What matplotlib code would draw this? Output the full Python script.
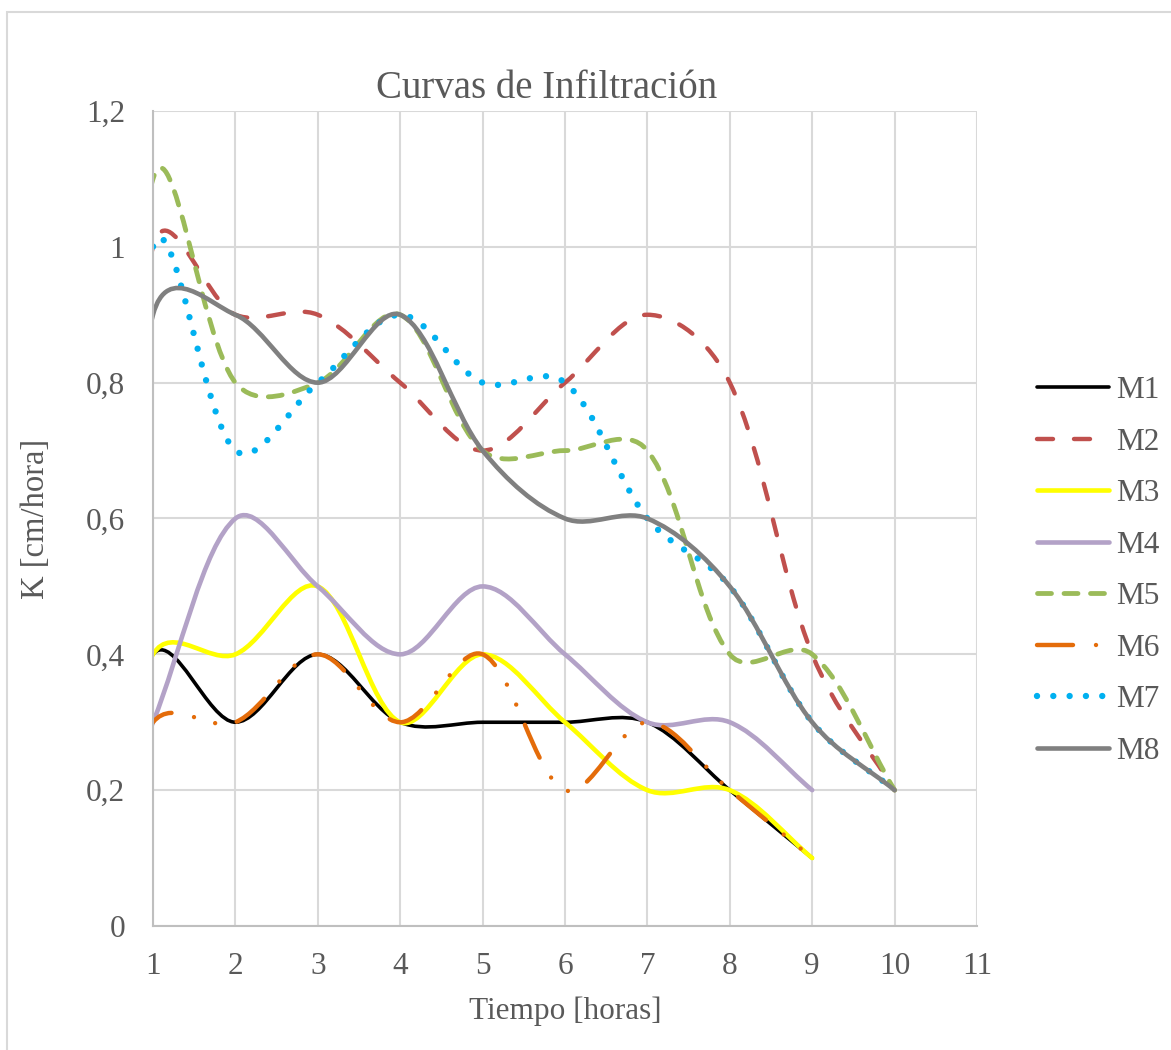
import numpy as np
import matplotlib
matplotlib.use("Agg")
import matplotlib.pyplot as plt
from matplotlib.path import Path
from matplotlib.patches import PathPatch, Rectangle
from matplotlib.lines import Line2D
from matplotlib.ticker import FuncFormatter

plt.rcParams['font.family'] = ['Liberation Serif', 'DejaVu Serif']

# --- datos (tiempo 0 con K = 0, fuera del rango visible del eje) ---
tiempo = [0, 1, 2, 3, 4, 5, 6, 7, 8, 9, 10]
m1 = [0, 0.4, 0.3, 0.4, 0.3, 0.3, 0.3, 0.3, 0.2, 0.1]
m2 = [0, 1.0, 0.9, 0.9, 0.8, 0.7, 0.8, 0.9, 0.8, 0.4, 0.2]
m3 = [0, 0.4, 0.4, 0.5, 0.3, 0.4, 0.3, 0.2, 0.2, 0.1]
m4 = [0, 0.3, 0.6, 0.5, 0.4, 0.5, 0.4, 0.3, 0.3, 0.2]
m5 = [0, 1.1, 0.8, 0.8, 0.9, 0.7, 0.7, 0.7, 0.4, 0.4, 0.2]
m6 = [0, 0.3, 0.3, 0.4, 0.3, 0.4, 0.2, 0.3, 0.2, 0.1]
m7 = [0, 1.0, 0.7, 0.8, 0.9, 0.8, 0.8, 0.6, 0.5, 0.3, 0.2]
m8 = [0, 0.9, 0.9, 0.8, 0.9, 0.7, 0.6, 0.6, 0.5, 0.3, 0.2]

nombres = ["M1", "M2", "M3", "M4", "M5", "M6", "M7", "M8"]
series = [m1, m2, m3, m4, m5, m6, m7, m8]

DPI = 100
txt = "#595959"
grid_c = "#D9D9D9"


def px_pattern(lw_px, *segs):
    # patron de guiones en pixeles -> unidades de ancho de linea
    return (0, tuple(s / lw_px for s in segs))


# estilos: color, ancho (px), patron de guiones
estilos = {
    "M1": ("#000000", 3.6, None),
    "M2": ("#C0504D", 4.4, px_pattern(4.4, 16, 21)),
    "M3": ("#FFFF00", 4.6, None),
    "M4": ("#B3A2C7", 4.6, None),
    "M5": ("#9BBB59", 4.8, px_pattern(4.8, 14, 12.5)),
    "M6": ("#E46C0A", 4.4, px_pattern(4.4, 36, 23, 0.01, 22, 0.01, 22)),
    "M7": ("#00B0F0", 6.4, px_pattern(6.4, 0.01, 16.3)),
    "M8": ("#808080", 4.6, None),
}


def suavizar(ax, xs, ys):
    # curva suavizada tipo Excel (Bezier centripeta en coordenadas de pantalla)
    pts = ax.transData.transform(np.column_stack([xs, ys]))
    n = len(pts)
    verts = [pts[0]]
    codes = [Path.MOVETO]
    for i in range(n - 1):
        p0 = pts[i - 1] if i > 0 else pts[i]
        p1 = pts[i]
        p2 = pts[i + 1]
        p3 = pts[i + 2] if i + 2 < n else pts[i + 1]
        d01 = np.sqrt(np.hypot(*(p1 - p0)))
        d12 = np.sqrt(np.hypot(*(p2 - p1)))
        d23 = np.sqrt(np.hypot(*(p3 - p2)))
        c1 = p1 + (p2 - p0) * d12 / (d01 + d12) / 3
        c2 = p2 - (p3 - p1) * d12 / (d12 + d23) / 3
        verts += [c1, c2, p2]
        codes += [Path.CURVE4] * 3
    verts = ax.transData.inverted().transform(np.array(verts))
    return Path(verts, codes)


fig = plt.figure(figsize=(1171 / DPI, 1050 / DPI), dpi=DPI)
ax = fig.add_axes([153 / 1171, 1 - 926 / 1050, (977 - 153) / 1171, (926 - 111) / 1050])
ax.set_xlim(1, 11)
ax.set_ylim(0, 1.2)
ax.set_xticks(range(1, 12))
ax.set_yticks(np.arange(0, 1.21, 0.2))
ax.yaxis.set_major_formatter(FuncFormatter(lambda v, p: ("%g" % round(v, 1)).replace(".", ",")))
ax.grid(True, color=grid_c, linewidth=1.5)
ax.set_axisbelow(True)
for s in ["top", "right"]:
    ax.spines[s].set_visible(False)
for s in ["left", "bottom"]:
    ax.spines[s].set_color("#BFBFBF")
    ax.spines[s].set_linewidth(1.5)
ax.tick_params(length=0, labelsize=22.5, labelcolor=txt)
ax.tick_params(axis="y", pad=20)
ax.tick_params(axis="x", pad=19)

handles = []
for nombre, ys in zip(nombres, series):
    color, lw_px, dash = estilos[nombre]
    lw = lw_px * 72 / DPI
    xs = tiempo[:len(ys)]
    patch = PathPatch(suavizar(ax, xs, ys), facecolor="none", edgecolor=color,
                      linewidth=lw, linestyle=dash if dash else "solid",
                      capstyle="round", joinstyle="round")
    ax.add_patch(patch)
    handles.append(Line2D([], [], color=color, linewidth=lw,
                          linestyle=dash if dash else "solid",
                          dash_capstyle="round", solid_capstyle="round"))

fig.text(547 / 1171, 1 - 89 / 1050, "Curvas de Infiltración", fontsize=28,
         color=txt, ha="center", va="center")
ax.set_xlabel("Tiempo [horas]", fontsize=22.5, color=txt, labelpad=11)
ax.set_ylabel("K [cm/hora]", fontsize=23.5, color=txt, labelpad=25)

fig.legend(handles, nombres, loc="center left", bbox_to_anchor=(1021 / 1171, 1 - 571 / 1050),
           frameon=False, fontsize=22.5, labelcolor=txt, handlelength=2.3,
           handletextpad=0.25, labelspacing=0.72, borderpad=0)

# borde del grafico
fig.patches.append(Rectangle((7 / 1171, -0.1), 1.2, 0.1 + 1 - 12.5 / 1050,
                             transform=fig.transFigure, fill=False,
                             edgecolor=grid_c, linewidth=1.5))

fig.savefig("out.png", dpi=DPI)
